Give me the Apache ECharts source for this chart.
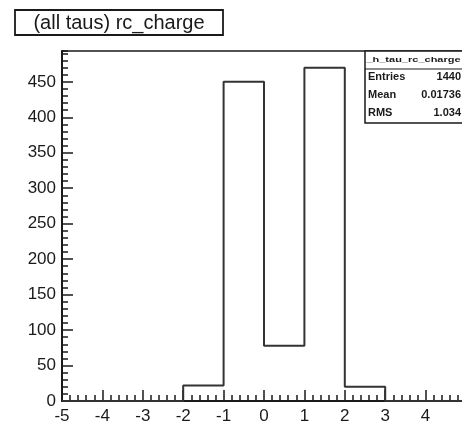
<!DOCTYPE html>
<html>
<head>
<meta charset="utf-8">
<script src="https://cdn.jsdelivr.net/npm/echarts@6/dist/echarts.min.js"></script>
<style>
  html, body { margin: 0; padding: 0; background: #fff; }
  #chart { width: 462px; height: 423px; }
</style>
</head>
<body>
<div id="chart"></div>
<script>
// Histogram of reconstructed tau charge, unit-width bins from -5 to 5
const binLowEdges = [-5, -4, -3, -2, -1, 0, 1, 2, 3, 4];
const binCounts   = [0, 0, 0, 22, 450, 78, 470, 20, 0, 0];
const xUpperEdge = 5;

const titleText = '(all taus) rc_charge';
const statsName = '_h_tau_rc_charge';
const statsLabels = ['Entries', 'Mean', 'RMS'];
const statsValues = ['1440', '0.01736', '1.034'];

const yTickValues = [0, 50, 100, 150, 200, 250, 300, 350, 400, 450];

// step outline: one point per bin low edge plus the closing upper edge
const stepPoints = binLowEdges.map((e, i) => [e, binCounts[i]]);
stepPoints.push([xUpperEdge, 0]);

const yMax = Math.max(...binCounts) * 1.05;

const FONT = '"Liberation Sans", Arial, sans-serif';
const INK = '#1a1a1a';

const chart = echarts.init(document.getElementById('chart'), null, { renderer: 'canvas' });

// statistics box: a name row and three value rows of equal height
const statsTop = 51, statsLeft = 365, statsHeight = 72, rowH = statsHeight / 4;
const statsGraphics = [
  {
    type: 'rect', shape: { x: statsLeft, y: statsTop, width: 120, height: statsHeight },
    style: { fill: '#fff', stroke: INK, lineWidth: 1.5 }, z: 100
  },
  {
    type: 'line', shape: { x1: statsLeft, y1: statsTop + rowH, x2: 470, y2: statsTop + rowH },
    style: { stroke: INK, lineWidth: 1.2 }, z: 101
  },
  {
    type: 'text', x: (statsLeft + 462) / 2, y: statsTop + rowH / 2, scaleY: 0.65, z: 102,
    style: { text: statsName, font: 'bold 11px ' + FONT, fill: INK, align: 'center', verticalAlign: 'middle' }
  }
];
statsLabels.forEach((lab, i) => {
  const yy = statsTop + rowH * (i + 1.5) - 1;
  statsGraphics.push({
    type: 'text', x: statsLeft + 3, y: yy, z: 102,
    style: { text: lab, font: 'bold 11px ' + FONT, fill: INK, verticalAlign: 'middle' }
  });
  statsGraphics.push({
    type: 'text', x: 461, y: yy, z: 102,
    style: { text: statsValues[i], font: 'bold 11px ' + FONT, fill: INK, align: 'right', verticalAlign: 'middle' }
  });
});

const option = {
  backgroundColor: '#ffffff',
  animation: false,
  grid: {
    left: 62, top: 51, width: 404, height: 350,
    outerBoundsMode: 'none', containLabel: false,
    show: true, borderColor: INK, borderWidth: 1.5, backgroundColor: 'transparent'
  },
  xAxis: [{
    type: 'value', min: -5, max: 5, interval: 1,
    axisLine: { show: true, onZero: false, lineStyle: { color: INK, width: 2 } },
    axisTick: { show: true, inside: true, length: 11, lineStyle: { color: INK, width: 1.5 } },
    minorTick: { show: true, splitNumber: 5, length: 6, lineStyle: { color: INK, width: 1.5 } },
    axisLabel: {
      color: INK, fontFamily: FONT, fontSize: 17, margin: 7,
      hideOverlap: false, showMinLabel: true, showMaxLabel: true
    },
    splitLine: { show: false }
  }],
  yAxis: [{
    type: 'value', min: 0, max: yMax, interval: 50,
    axisLine: { show: true, onZero: false, lineStyle: { color: INK, width: 2 } },
    axisTick: { show: true, inside: true, length: 11, lineStyle: { color: INK, width: 1.5 } },
    axisLabel: {
      color: INK, fontFamily: FONT, fontSize: 17, margin: 6,
      showMaxLabel: false,
      formatter: v => (yTickValues.includes(v) ? String(v) : '')
    },
    splitLine: { show: false }
  }, {
    // fine ticks every 10 counts along the left edge
    type: 'value', min: 0, max: yMax, interval: 10, position: 'left',
    axisLine: { show: false, onZero: false },
    axisTick: { show: true, inside: true, length: 6, lineStyle: { color: INK, width: 1.5 } },
    axisLabel: { show: false },
    splitLine: { show: false }
  }],
  series: [{
    type: 'line',
    step: 'end',
    data: stepPoints,
    symbol: 'none',
    lineStyle: { color: '#333', width: 2 },
    z: 5
  }],
  graphic: [
    {
      type: 'rect', shape: { x: 15, y: 10, width: 208, height: 25 },
      style: { fill: '#fff', stroke: INK, lineWidth: 1.8 }
    },
    {
      type: 'text', x: 119, y: 23,
      style: { text: titleText, font: '20px ' + FONT, fill: INK, align: 'center', verticalAlign: 'middle' }
    }
  ].concat(statsGraphics)
};

chart.setOption(option);
</script>
</body>
</html>
